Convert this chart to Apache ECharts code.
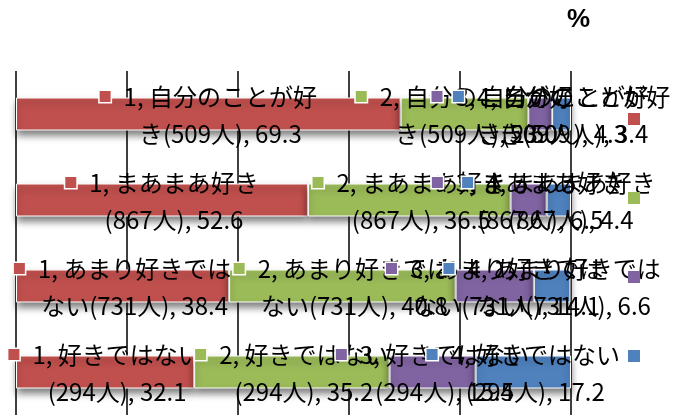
<!DOCTYPE html>
<html>
<head>
<meta charset="utf-8">
<script src="https://cdn.jsdelivr.net/npm/echarts@6/dist/echarts.min.js"></script>
<style>
  html, body { margin: 0; padding: 0; background: #fff; }
  #chart { width: 681px; height: 415px; }
</style>
</head>
<body>
<div id="chart"></div>
<script>
// Answer categories (top to bottom) and number of respondents in each
const categories = ['自分のことが好き', 'まあまあ好き', 'あまり好きではない', '好きではない'];
const respondents = [509, 867, 731, 294];

// Stacked series (share in %), one value per category
const seriesNames = ['1', '2', '3', '4'];
const series1 = [69.3, 52.6, 38.4, 32.1];
const series2 = [23.0, 36.5, 40.8, 35.2];
const series3 = [4.3, 6.5, 14.1, 15.5];
const series4 = [3.4, 4.4, 6.6, 17.2];
const seriesValues = [series1, series2, series3, series4];

const unitLabel = '%';
const colors = ['#C0504D', '#9BBB59', '#8064A2', '#4F81BD'];

const FONT_FAMILY = '"Noto Sans CJK JP", "Noto Sans CJK SC", sans-serif';
const FONT_SIZE = 24;
const MAX_LINE_WIDTH = 205;

// Measure text so the data labels wrap the way a fixed-width label box would
const measureCtx = document.createElement('canvas').getContext('2d');
measureCtx.font = FONT_SIZE + 'px ' + FONT_FAMILY;

function wrapLabel(seriesName, catIdx, value) {
  const cat = categories[catIdx];
  let line1 = seriesName + ', ';
  let i = 0;
  while (i < cat.length && measureCtx.measureText(line1 + cat[i]).width <= MAX_LINE_WIDTH) {
    line1 += cat[i];
    i++;
  }
  const line2 = cat.slice(i) + '(' + respondents[catIdx] + '人), ' + value.toFixed(1);
  return [line1, line2];
}

function makeSeries(idx) {
  const color = colors[idx];
  return {
    name: seriesNames[idx],
    type: 'bar',
    stack: 'total',
    barWidth: 33,
    data: seriesValues[idx],
    itemStyle: {
      color: color,
      borderColor: '#ffffff',
      borderWidth: 1,
      shadowColor: 'rgba(0,0,0,0.5)',
      shadowBlur: 7,
      shadowOffsetY: 5
    },
    label: {
      show: true,
      position: 'inside',
      offset: [0, 1],
      formatter: function (p) {
        const lines = wrapLabel(seriesNames[idx], p.dataIndex, p.value);
        return '{k|}{g|}{t|' + lines[0] + '}\n{s|}{t|' + lines[1] + '}';
      },
      rich: {
        t: {
          fontFamily: FONT_FAMILY,
          fontSize: FONT_SIZE,
          color: '#000',
          lineHeight: 37,
          align: 'center'
        },
        k: {
          width: 11,
          height: 11,
          backgroundColor: color,
          borderColor: '#ffffff',
          borderWidth: 1.5,
          align: 'center'
        },
        g: { width: 13, align: 'center' },
        s: { width: 24, align: 'center' }
      }
    },
    emphasis: { disabled: true }
  };
}

const chart = echarts.init(document.getElementById('chart'), null, { renderer: 'canvas' });

chart.setOption({
  animation: false,
  backgroundColor: '#ffffff',
  title: {
    text: unitLabel,
    left: 562,
    top: 2,
    textStyle: {
      fontFamily: '"Liberation Sans", Arial, sans-serif',
      fontSize: 26,
      fontWeight: 'bold',
      color: '#000'
    }
  },
  legend: {
    orient: 'vertical',
    left: 623,
    top: 108,
    data: seriesNames,
    icon: 'rect',
    itemWidth: 12,
    itemHeight: 12,
    itemGap: 67,
    selectedMode: false,
    formatter: function () { return ''; },
    textStyle: { fontSize: 10, lineHeight: 12 },
    itemStyle: { borderWidth: 0, shadowBlur: 0, shadowOffsetY: 0 }
  },
  grid: {
    left: 16,
    top: 71,
    width: 555,
    height: 345,
    containLabel: false
  },
  xAxis: {
    type: 'value',
    min: 0,
    max: 100,
    interval: 20,
    axisLabel: { show: false },
    axisTick: { show: false },
    axisLine: { show: false },
    splitLine: { show: true, lineStyle: { color: '#000000', width: 1.5 } }
  },
  yAxis: {
    type: 'category',
    inverse: true,
    data: categories,
    axisLabel: { show: false },
    axisTick: { show: false },
    axisLine: { show: false },
    splitLine: { show: false }
  },
  series: [makeSeries(0), makeSeries(1), makeSeries(2), makeSeries(3)]
});
</script>
</body>
</html>
